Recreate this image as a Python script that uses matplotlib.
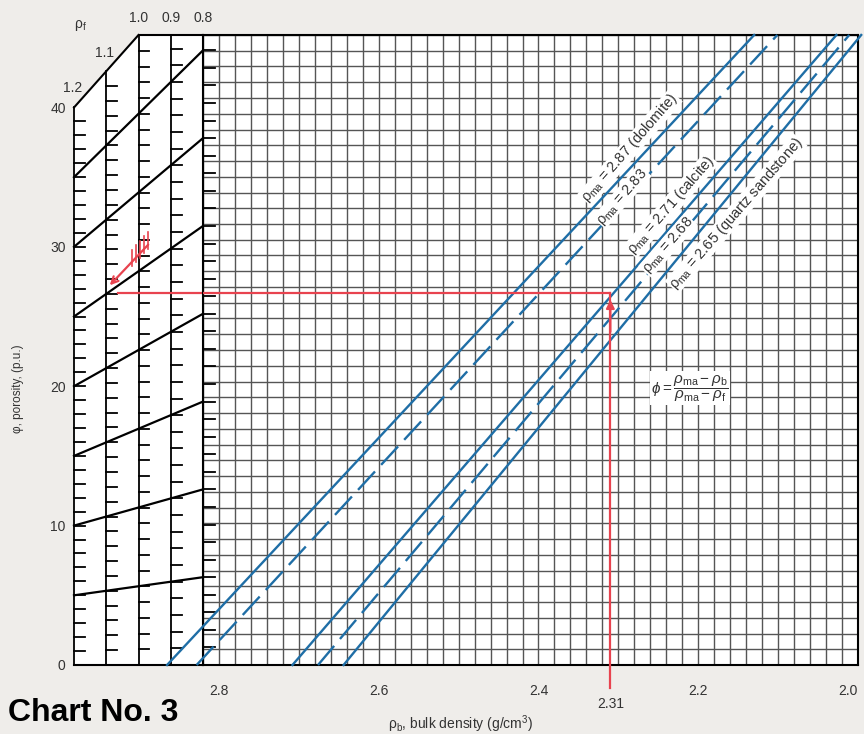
import matplotlib.pyplot as plt

plt.rcParams['font.family'] = ['Liberation Sans', 'DejaVu Sans']
plt.rcParams['mathtext.fontset'] = 'custom'
plt.rcParams['mathtext.rm'] = 'Liberation Sans'
plt.rcParams['mathtext.it'] = 'Liberation Sans:italic'
plt.rcParams['lines.scale_dashes'] = False

# main chart: bulk density (g/cm3) against porosity (p.u.)
rho_left, rho_right = 2.82, 2.0
phi_top = 45.2
grid_step = 0.02
grid_rows = 40
x_ticks = [2.8, 2.6, 2.4, 2.2, 2.0]

matrix_names = ['2.87 (dolomite)', '2.83', '2.71 (calcite)', '2.68', '2.65 (quartz sandstone)']
matrix_rho_bottom = [2.865, 2.828, 2.708, 2.676, 2.644]  # rho_b at phi = 0
matrix_rho_top = [2.130, 2.101, 2.027, 2.011, 1.996]     # rho_b at top of grid
matrix_dashed = [False, True, False, True, False]
label_rho = [2.2855, 2.2955, 2.2341, 2.2379, 2.1527]
label_phi = [37.1, 33.6, 33.0, 30.1, 32.4]

# fluid density panel
rho_f = [1.2, 1.1, 1.0, 0.9, 0.8]
rho_f_scale = [1.0, 1.065, 1.13, 1.195, 1.26]
phi_levels = [5, 10, 15, 20, 25, 30, 35]
phi_labels = [0, 10, 20, 30, 40]

# worked example
ex_rho_b = 2.31
ex_phi = 26.7
ex_rho_f_end = 1.065
arrow_start = (0.964, 30.3)
arrow_end = (1.095, 27.1)

bg = '#efedea'
blue = '#1f6ea6'
red = '#e8434f'
txt = '#333333'

fig = plt.figure(figsize=(8.64, 7.34), dpi=100)
fig.patch.set_facecolor(bg)
axL = fig.add_axes([74 / 864, 69 / 734, 129 / 864, 630 / 734], zorder=1)
axM = fig.add_axes([203 / 864, 69 / 734, 655 / 864, 630 / 734], zorder=2)

# ---- left panel
axL.set_facecolor('none')
axL.set_xlim(1.2, 0.8)
axL.set_ylim(0, phi_top)
for s in axL.spines.values():
    s.set_visible(False)
axL.set_xticks([])
axL.set_yticks(phi_labels)
axL.set_yticklabels([str(p) for p in phi_labels], fontsize=10, color=txt)
axL.tick_params(axis='y', length=0, pad=6)

axL.fill([1.2, 1.2, 1.0, 0.8, 0.8], [0, 40, 40 * rho_f_scale[2], phi_top, 0], color='white', zorder=0)
axL.plot([1.2, 0.8], [0, 0], color='black', lw=1.5, clip_on=False)
axL.plot([1.0, 0.8], [phi_top, phi_top], color='black', lw=1.5, clip_on=False)
axL.plot(rho_f[:3], [40 * s for s in rho_f_scale[:3]], color='black', lw=1.5, clip_on=False)

tick_len = 0.034
for rf, s in zip(rho_f, rho_f_scale):
    top = min(40 * s, phi_top)
    axL.plot([rf, rf], [0, top], color='black', lw=1.3, clip_on=False)
    p = 1
    while p * s < top - 0.3:
        if rf > 0.85:
            axL.plot([rf, rf - tick_len], [p * s, p * s], color='black', lw=1.3, clip_on=False)
        else:
            axM.plot([rho_left, rho_left - 0.015], [p * s, p * s], color='black', lw=1.3, clip_on=False, zorder=3)
        p += 1

for p in phi_levels:
    axL.plot(rho_f, [p * s for s in rho_f_scale], color='black', lw=1.6, clip_on=False)

for rf in [1.0, 0.9, 0.8]:
    axL.text(rf, 46.4, '%.1f' % rf, ha='center', va='center', fontsize=10, color=txt, clip_on=False)
axL.text(1.104, 43.9, '1.1', ha='center', va='center', fontsize=10, color=txt)
axL.text(1.203, 41.4, '1.2', ha='center', va='center', fontsize=10, color=txt)
axL.text(1.181, 45.9, 'ρ$_{\\rm f}$', ha='center', va='center', fontsize=10, color=txt, clip_on=False)

# example path in the left panel
axL.plot([0.8, ex_rho_f_end], [ex_phi, ex_phi], color=red, lw=1.6, clip_on=False)
axL.annotate('', xy=arrow_end, xytext=arrow_start,
             arrowprops=dict(arrowstyle='->', color=red, lw=1.6, mutation_scale=12))
for t in [0.04, 0.14, 0.24, 0.34, 0.44]:
    xf = arrow_start[0] + t * (arrow_end[0] - arrow_start[0])
    yf = arrow_start[1] + t * (arrow_end[1] - arrow_start[1])
    axL.plot([xf, xf], [yf - 0.3, yf + 0.9], color=red, lw=1.2)

# ---- main grid
axM.set_facecolor('white')
axM.set_xlim(rho_left, rho_right)
axM.set_ylim(0, phi_top)
n_cols = int(round((rho_left - rho_right) / grid_step))
axM.vlines([rho_left - grid_step * k for k in range(n_cols + 1)], 0, phi_top, color='#555555', lw=1.0, zorder=1)
axM.hlines([phi_top * k / grid_rows for k in range(grid_rows + 1)], rho_right, rho_left, color='#555555', lw=1.0, zorder=1)
for s in axM.spines.values():
    s.set_color('black')
    s.set_linewidth(1.5)
axM.set_yticks([])
axM.set_xticks(x_ticks)
axM.set_xticklabels(['%.1f' % v for v in x_ticks], fontsize=10, color=txt)
axM.get_xticklabels()[-1].set_ha('right')
axM.tick_params(axis='x', length=0, pad=14)

for rb0, rb1, dashed in zip(matrix_rho_bottom, matrix_rho_top, matrix_dashed):
    if dashed:
        axM.plot([rb0, rb1], [0, phi_top], color=blue, lw=1.7, dashes=(18, 6.5), clip_on=False, zorder=3)
    else:
        axM.plot([rb0, rb1], [0, phi_top], color=blue, lw=1.7, clip_on=False, zorder=3)

for name, lx, ly in zip(matrix_names, label_rho, label_phi):
    axM.text(lx, ly, 'ρ$_{\\rm ma}$ = ' + name, rotation=49, rotation_mode='anchor',
             ha='center', va='center', fontsize=10.5, color=txt, zorder=4,
             bbox=dict(facecolor='white', edgecolor='none', pad=0.3))

axM.text(2.2103, 19.86, r'$\phi = \dfrac{\rho_{\rm ma} - \rho_{\rm b}}{\rho_{\rm ma} - \rho_{\rm f}}$',
         ha='center', va='center', fontsize=11, color=txt, zorder=4,
         bbox=dict(facecolor='white', edgecolor='none', pad=1))

# example path in the main chart
axM.plot([ex_rho_b, ex_rho_b], [-1.65, ex_phi], color=red, lw=1.6, clip_on=False, zorder=5)
axM.plot([ex_rho_b, rho_left], [ex_phi, ex_phi], color=red, lw=1.6, zorder=5)
axM.annotate('', xy=(ex_rho_b, ex_phi - 0.3), xytext=(ex_rho_b, ex_phi - 3),
             arrowprops=dict(arrowstyle='-|>', color=red, lw=1.6, mutation_scale=12), zorder=5)
axM.text(ex_rho_b, -2.3, '2.31', ha='center', va='top', fontsize=10, color=txt, clip_on=False)

axM.text(2.498, -4.25, 'ρ$_{\\rm b}$, bulk density (g/cm$^3$)', ha='center', va='center',
         fontsize=10, color=txt, clip_on=False)

fig.text(18 / 864, 1 - 389 / 734, 'φ, porosity, (p.u.)', rotation=90, ha='center', va='center',
         fontsize=8.5, color=txt)
fig.text(8 / 864, 1 - 713 / 734, 'Chart No. 3', ha='left', va='center', fontsize=23,
         fontweight='bold', family=['Liberation Sans Narrow', 'Liberation Sans'], color='black')

fig.savefig('out.png', dpi=100, facecolor=bg)
